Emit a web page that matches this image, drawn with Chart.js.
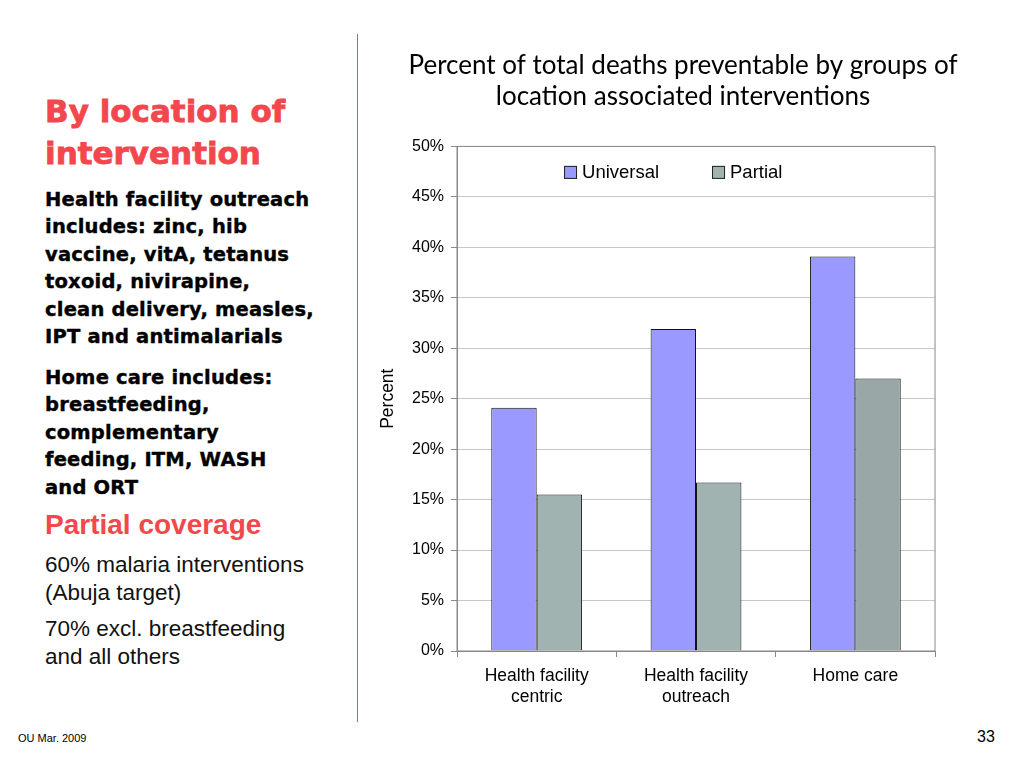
<!DOCTYPE html>
<html>
<head>
<meta charset="utf-8">
<script src="https://cdn.jsdelivr.net/npm/chart.js@4.4.1/dist/chart.umd.min.js"></script>
<style>
  body { margin: 0; width: 1024px; height: 768px; background: #fff; position: relative; overflow: hidden; font-family: "Liberation Sans", Arial, sans-serif; }
  .t { position: absolute; left: 45px; white-space: nowrap; }
  .head { color: #F2474C; font-family: "DejaVu Sans", Verdana, sans-serif; font-weight: bold; font-size: 31px; line-height: 42px; top: 90px; -webkit-text-stroke: 0.8px #F2474C; }
  .bold { font-family: "DejaVu Sans", Verdana, sans-serif; font-weight: bold; font-size: 19.5px; line-height: 27.4px; color: #000; letter-spacing: 0.2px; -webkit-text-stroke: 0.4px #000; }
  .red { color: #F2474C; font-size: 28px; font-weight: bold; top: 509px; }
  .plain { font-size: 22.5px; line-height: 28px; color: #111; }
  #rule { position: absolute; left: 357px; top: 34px; width: 1px; height: 688px; background: #E3564F; }
  #wrap { position: absolute; left: 365px; top: 40px; width: 636px; height: 680px; }
  .foot { position: absolute; font-size: 11px; left: 18px; top: 732px; }
  .num { position: absolute; font-size: 16px; left: 977px; top: 728px; }
</style>
</head>
<body>
<div class="t head">By location of<br>intervention</div>
<div class="t bold" style="top:186px">Health facility outreach<br>includes: zinc, hib<br>vaccine, vitA, tetanus<br>toxoid, nivirapine,<br>clean delivery, measles,<br>IPT and antimalarials</div>
<div class="t bold" style="top:364px">Home care includes:<br>breastfeeding,<br>complementary<br>feeding, ITM, WASH<br>and ORT</div>
<div class="t red">Partial coverage</div>
<div class="t plain" style="top:551px">60% malaria interventions<br>(Abuja target)</div>
<div class="t plain" style="top:615px">70% excl. breastfeeding<br>and all others</div>
<div id="rule"></div>
<div class="foot">OU Mar. 2009</div>
<div class="num">33</div>
<div id="wrap"><canvas id="chart"></canvas></div>
<script>
const categories = [["Health facility", "centric"], ["Health facility", "outreach"], ["Home care"]];
const universal = [24.1, 31.9, 39.1];
const partial = [15.5, 16.7, 27.0];
const yTicks = [0, 5, 10, 15, 20, 25, 30, 35, 40, 45, 50];
const seriesNames = ["Universal", "Partial"];
const seriesColors = ["#9999FF", "#A1B3B0"];

// Legend sits inside the plot area in one row, so it is drawn here
const insideLegend = {
  id: "insideLegend",
  afterDraw(chart) {
    const a = chart.chartArea;
    const c = chart.ctx;
    c.save();
    c.font = "18.5px 'Liberation Sans'";
    c.textBaseline = "middle";
    let x = a.left + 107;
    const y = a.top + 26;
    seriesNames.forEach((name, i) => {
      c.fillStyle = seriesColors[i];
      c.fillRect(x, y - 6.5, 13, 13);
      c.strokeStyle = "#222";
      c.lineWidth = 1;
      c.strokeRect(x + 0.5, y - 6, 12, 12);
      c.fillStyle = "#000";
      c.fillText(name, x + 18, y + 1);
      x += 148;
    });
    c.restore();
  },
};

const plotBorder = {
  id: "plotBorder",
  afterLayout(chart) {
    // centre the title over the whole canvas, not the padded box
    if (chart.titleBlock) {
      chart.titleBlock.left = 0;
      chart.titleBlock.right = chart.width;
    }
  },
  afterDraw(chart) {
    const a = chart.chartArea;
    const c = chart.ctx;
    c.save();
    c.strokeStyle = "#888";
    c.lineWidth = 1;
    c.strokeRect(a.left, a.top, a.right - a.left, a.bottom - a.top);
    c.restore();
  },
};

const ctx = document.getElementById("chart").getContext("2d");
new Chart(ctx, {
  type: "bar",
  data: {
    labels: categories,
    datasets: [
      {
        label: seriesNames[0],
        data: universal,
        backgroundColor: seriesColors[0],
        borderColor: "#111",
        borderWidth: 1,
      },
      {
        label: seriesNames[1],
        data: partial,
        backgroundColor: ["#A1B3B0", "#A1B3B0", "#99A8A7"],
        borderColor: "#111",
        borderWidth: 1,
      },
    ],
  },
  options: {
    responsive: true,
    maintainAspectRatio: false,
    animation: false,
    layout: { padding: { left: 7, right: 66, top: 0, bottom: 3 } },
    datasets: { bar: { categoryPercentage: 0.57, barPercentage: 1 } },
    scales: {
      y: {
        min: 0,
        max: 50,
        afterBuildTicks: (axis) => { axis.ticks = yTicks.map((v) => ({ value: v })); },
        ticks: { callback: (v) => v + "%", color: "#000", font: { family: "Liberation Sans", size: 16 }, padding: 7 },
        grid: { color: "#C8C8C8", tickLength: 6, tickColor: "#888" },
        border: { color: "#888" },
        title: { display: true, text: "Percent", color: "#000", font: { family: "Liberation Sans", size: 17.5 }, padding: 6 },
      },
      x: {
        ticks: { color: "#000", font: { family: "Liberation Sans", size: 17.5, lineHeight: 1.2 }, padding: 9 },
        grid: { display: true, drawOnChartArea: false, offset: true, tickLength: 6, color: "#888" },
        border: { color: "#888" },
      },
    },
    plugins: {
      legend: { display: false },
      title: {
        display: true,
        text: ["Percent of total deaths preventable by groups of", "location associated interventions"],
        color: "#000",
        font: { family: "Lato", size: 26, weight: "normal" },
        padding: { top: 10, bottom: 34 },
        lineHeight: 1.15,
      },
      tooltip: { enabled: false },
    },
  },
  plugins: [plotBorder, insideLegend],
});
</script>
</body>
</html>
